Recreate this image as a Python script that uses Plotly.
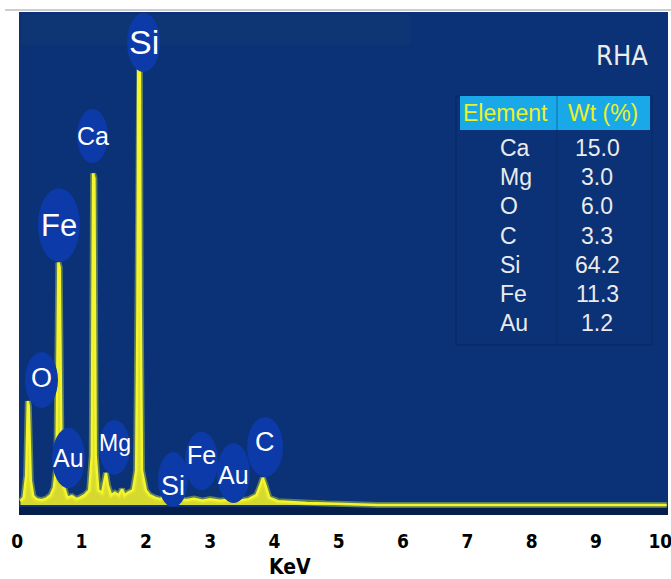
import plotly.graph_objects as go

# ---- spectrum data ----
energy_kev = [0.05, 0.10, 0.14, 0.165, 0.18, 0.21, 0.25, 0.30, 0.38, 0.45, 0.52, 0.57, 0.61, 0.64,
              0.66, 0.69, 0.73, 0.78, 0.85, 0.92, 0.98, 1.05, 1.12, 1.16, 1.18, 1.20, 1.22, 1.26,
              1.32, 1.36, 1.38, 1.41, 1.46, 1.52, 1.58, 1.63, 1.67, 1.72, 1.80, 1.85, 1.87, 1.885,
              1.905, 1.92, 1.94, 2.00, 2.06, 2.14, 2.22, 2.30, 2.40, 2.50, 2.62, 2.75, 2.88, 3.00,
              3.15, 3.30, 3.45, 3.60, 3.72, 3.78, 3.82, 3.86, 3.92, 4.05, 4.25, 4.50, 4.80, 5.10,
              5.40, 5.60, 10.1]
counts = [0.8, 1.5, 6.0, 21.0, 20.0, 5.0, 1.8, 1.2, 1.0, 1.3, 2.0, 3.5, 8.0, 49.0,
          48.0, 8.0, 3.5, 1.5, 1.8, 1.2, 1.5, 2.0, 3.0, 10.0, 67.0, 66.0, 10.0, 3.0,
          2.5, 5.0, 6.5, 4.0, 2.0, 2.5, 2.0, 3.2, 2.0, 2.5, 3.0, 7.0, 40.0, 97.0,
          98.0, 40.0, 7.0, 3.0, 2.0, 1.5, 1.2, 1.6, 1.0, 1.4, 1.0, 1.3, 0.9, 1.2,
          0.9, 1.1, 0.9, 1.2, 2.0, 4.0, 5.5, 4.0, 1.5, 0.8, 0.6, 0.4, 0.3, 0.2,
          0.1, 0.0, 0.0]

tick_values = [0, 1, 2, 3, 4, 5, 6, 7, 8, 9, 10]
tick_labels = ["0", "1", "2", "3", "4", "5", "6", "7", "8", "9", "10"]

table_elements = ["Ca", "Mg", "O", "C", "Si", "Fe", "Au"]
table_wt = ["15.0", "3.0", "6.0", "3.3", "64.2", "11.3", "1.2"]
table_header = ["Element", "Wt (%)"]
sample_name = "RHA"
x_title = "KeV"

peak_labels = ["Si", "Ca", "Fe", "O", "Au", "Mg", "Si", "Fe", "Au", "C"]

# ---- layout / styling (positions of label ellipses in axis units) ----
label_boxes = [  # x0, x1, y0, y1, font size
    (1.707, 2.221, 87.5, 99.4, 34),
    (0.930, 1.412, 69.1, 80.0, 25),
    (0.323, 0.976, 49.1, 64.0, 31),
    (0.121, 0.634, 19.6, 30.9, 27),
    (0.541, 1.054, 3.4, 15.6, 25),
    (1.272, 1.754, 6.1, 17.2, 23),
    (2.190, 2.656, -0.4, 10.7, 27),
    (2.609, 3.123, 3.0, 14.8, 25),
    (3.107, 3.620, 0.4, 12.5, 25),
    (3.574, 4.133, 5.7, 17.8, 27),
]
label_text_shift = [(0, 0), (0, 0), (0, 0), (0, 2), (0, 0), (0, 4), (0, -6), (0, 6), (0, -2), (0, 5)]

W, H = 671, 579
L, R, T, B = 14, 3, 10, 64
PW, PH = W - L - R, H - T - B

def px(x):
    return (x - L) / PW

def py(y):
    return (H - B - y) / PH

BG = "rgb(11,50,118)"
ELL = "rgb(12,58,168)"
NARROW = "Liberation Sans Narrow, DejaVu Sans Condensed, Liberation Sans, sans-serif"
SANS = "Liberation Sans, Arial, sans-serif"

fig = go.Figure()

# glow
fig.add_trace(go.Scatter(x=energy_kev, y=counts, mode="lines",
                         line=dict(color="rgba(160,190,70,0.55)", width=6),
                         hoverinfo="skip", showlegend=False))
fig.add_trace(go.Scatter(x=energy_kev, y=counts, mode="lines", fill="tozeroy",
                         fillcolor="rgba(235,235,40,0.9)",
                         line=dict(color="rgb(245,245,45)", width=2.5),
                         showlegend=False))

shapes = []
shapes.append(dict(type="rect", xref="paper", yref="paper", x0=px(19), x1=px(668),
                   y0=0, y1=py(12), fillcolor=BG, line=dict(width=0), layer="below"))
shapes.append(dict(type="rect", xref="paper", yref="paper", x0=px(22), x1=px(410),
                   y0=py(45), y1=py(15), fillcolor="rgba(40,90,110,0.12)",
                   line=dict(width=0), layer="below"))
shapes.append(dict(type="rect", xref="paper", yref="paper", x0=px(19), x1=px(668),
                   y0=0, y1=py(507), fillcolor="rgb(6,30,75)", line=dict(width=0), layer="below"))
shapes.append(dict(type="line", xref="paper", yref="paper", x0=px(5), x1=px(671),
                   y0=1.0, y1=1.0, line=dict(color="rgb(205,205,205)", width=2)))

annotations = []
for (x0, x1, y0, y1, fs), txt, (dx, dy) in zip(label_boxes, peak_labels, label_text_shift):
    shapes.append(dict(type="circle", xref="x", yref="y", x0=x0, x1=x1, y0=y0, y1=y1,
                       fillcolor=ELL, line=dict(width=0), layer="above"))
    annotations.append(dict(x=(x0 + x1) / 2, y=(y0 + y1) / 2, xref="x", yref="y",
                            text=txt, showarrow=False, xshift=dx, yshift=dy,
                            font=dict(family=SANS, size=fs, color="white")))

# table
shapes.append(dict(type="rect", xref="paper", yref="paper", x0=px(456), x1=px(652),
                   y0=py(345), y1=py(96), fillcolor="rgba(0,0,0,0)",
                   line=dict(color="rgba(5,30,80,0.5)", width=1)))
shapes.append(dict(type="rect", xref="paper", yref="paper", x0=px(460), x1=px(650),
                   y0=py(130), y1=py(96), fillcolor="rgb(25,168,232)",
                   line=dict(width=0)))
shapes.append(dict(type="line", xref="paper", yref="paper", x0=px(557), x1=px(557),
                   y0=py(345), y1=py(96), line=dict(color="rgba(5,30,80,0.45)", width=1)))

hdr_x = [505, 603]
for hx, ht in zip(hdr_x, table_header):
    annotations.append(dict(x=px(hx), y=py(113), xref="paper", yref="paper", text=ht,
                            showarrow=False, xanchor="center", yanchor="middle",
                            font=dict(family=SANS, size=23, color="rgb(235,240,40)")))
row_y0, row_step = 148, 29.2
for i, (el, wt) in enumerate(zip(table_elements, table_wt)):
    yy = row_y0 + i * row_step
    annotations.append(dict(x=px(498), y=py(yy), xref="paper", yref="paper", text=el,
                            showarrow=False, xanchor="left", yanchor="middle",
                            font=dict(family=SANS, size=23, color="rgb(235,235,235)")))
    annotations.append(dict(x=px(597), y=py(yy), xref="paper", yref="paper", text=wt,
                            showarrow=False, xanchor="center", yanchor="middle",
                            font=dict(family=SANS, size=23, color="rgb(235,235,235)")))

annotations.append(dict(x=px(622), y=py(56), xref="paper", yref="paper", text=sample_name,
                        showarrow=False, xanchor="center", yanchor="middle",
                        font=dict(family=NARROW, size=27, color="rgb(235,235,235)")))
annotations.append(dict(x=px(290), y=py(567), xref="paper", yref="paper",
                        text="<b>" + x_title + "</b>",
                        showarrow=False, xanchor="center", yanchor="middle",
                        font=dict(family=NARROW, size=21, color="black")))

fig.update_layout(
    width=W, height=H,
    margin=dict(l=L, r=R, t=T, b=B, autoexpand=False),
    paper_bgcolor="white", plot_bgcolor="rgba(0,0,0,0)",
    shapes=shapes, annotations=annotations,
    xaxis=dict(range=[-0.05, 10.12], tickmode="array", tickvals=tick_values,
               ticktext=tick_labels, showgrid=False, zeroline=False, showline=False,
               ticks="outside", ticklen=9, tickcolor="rgba(0,0,0,0)",
               ticklabeloverflow="allow", automargin=False,
               tickfont=dict(family=NARROW, size=19, color="black", weight="bold")),
    yaxis=dict(range=[-2, 100], showgrid=False, zeroline=False, showline=False,
               showticklabels=False, ticks="", automargin=False),
)

fig.write_html("out.html", config={"displayModeBar": False},
               post_script="document.body.style.margin='0';document.body.style.overflow='hidden';")
